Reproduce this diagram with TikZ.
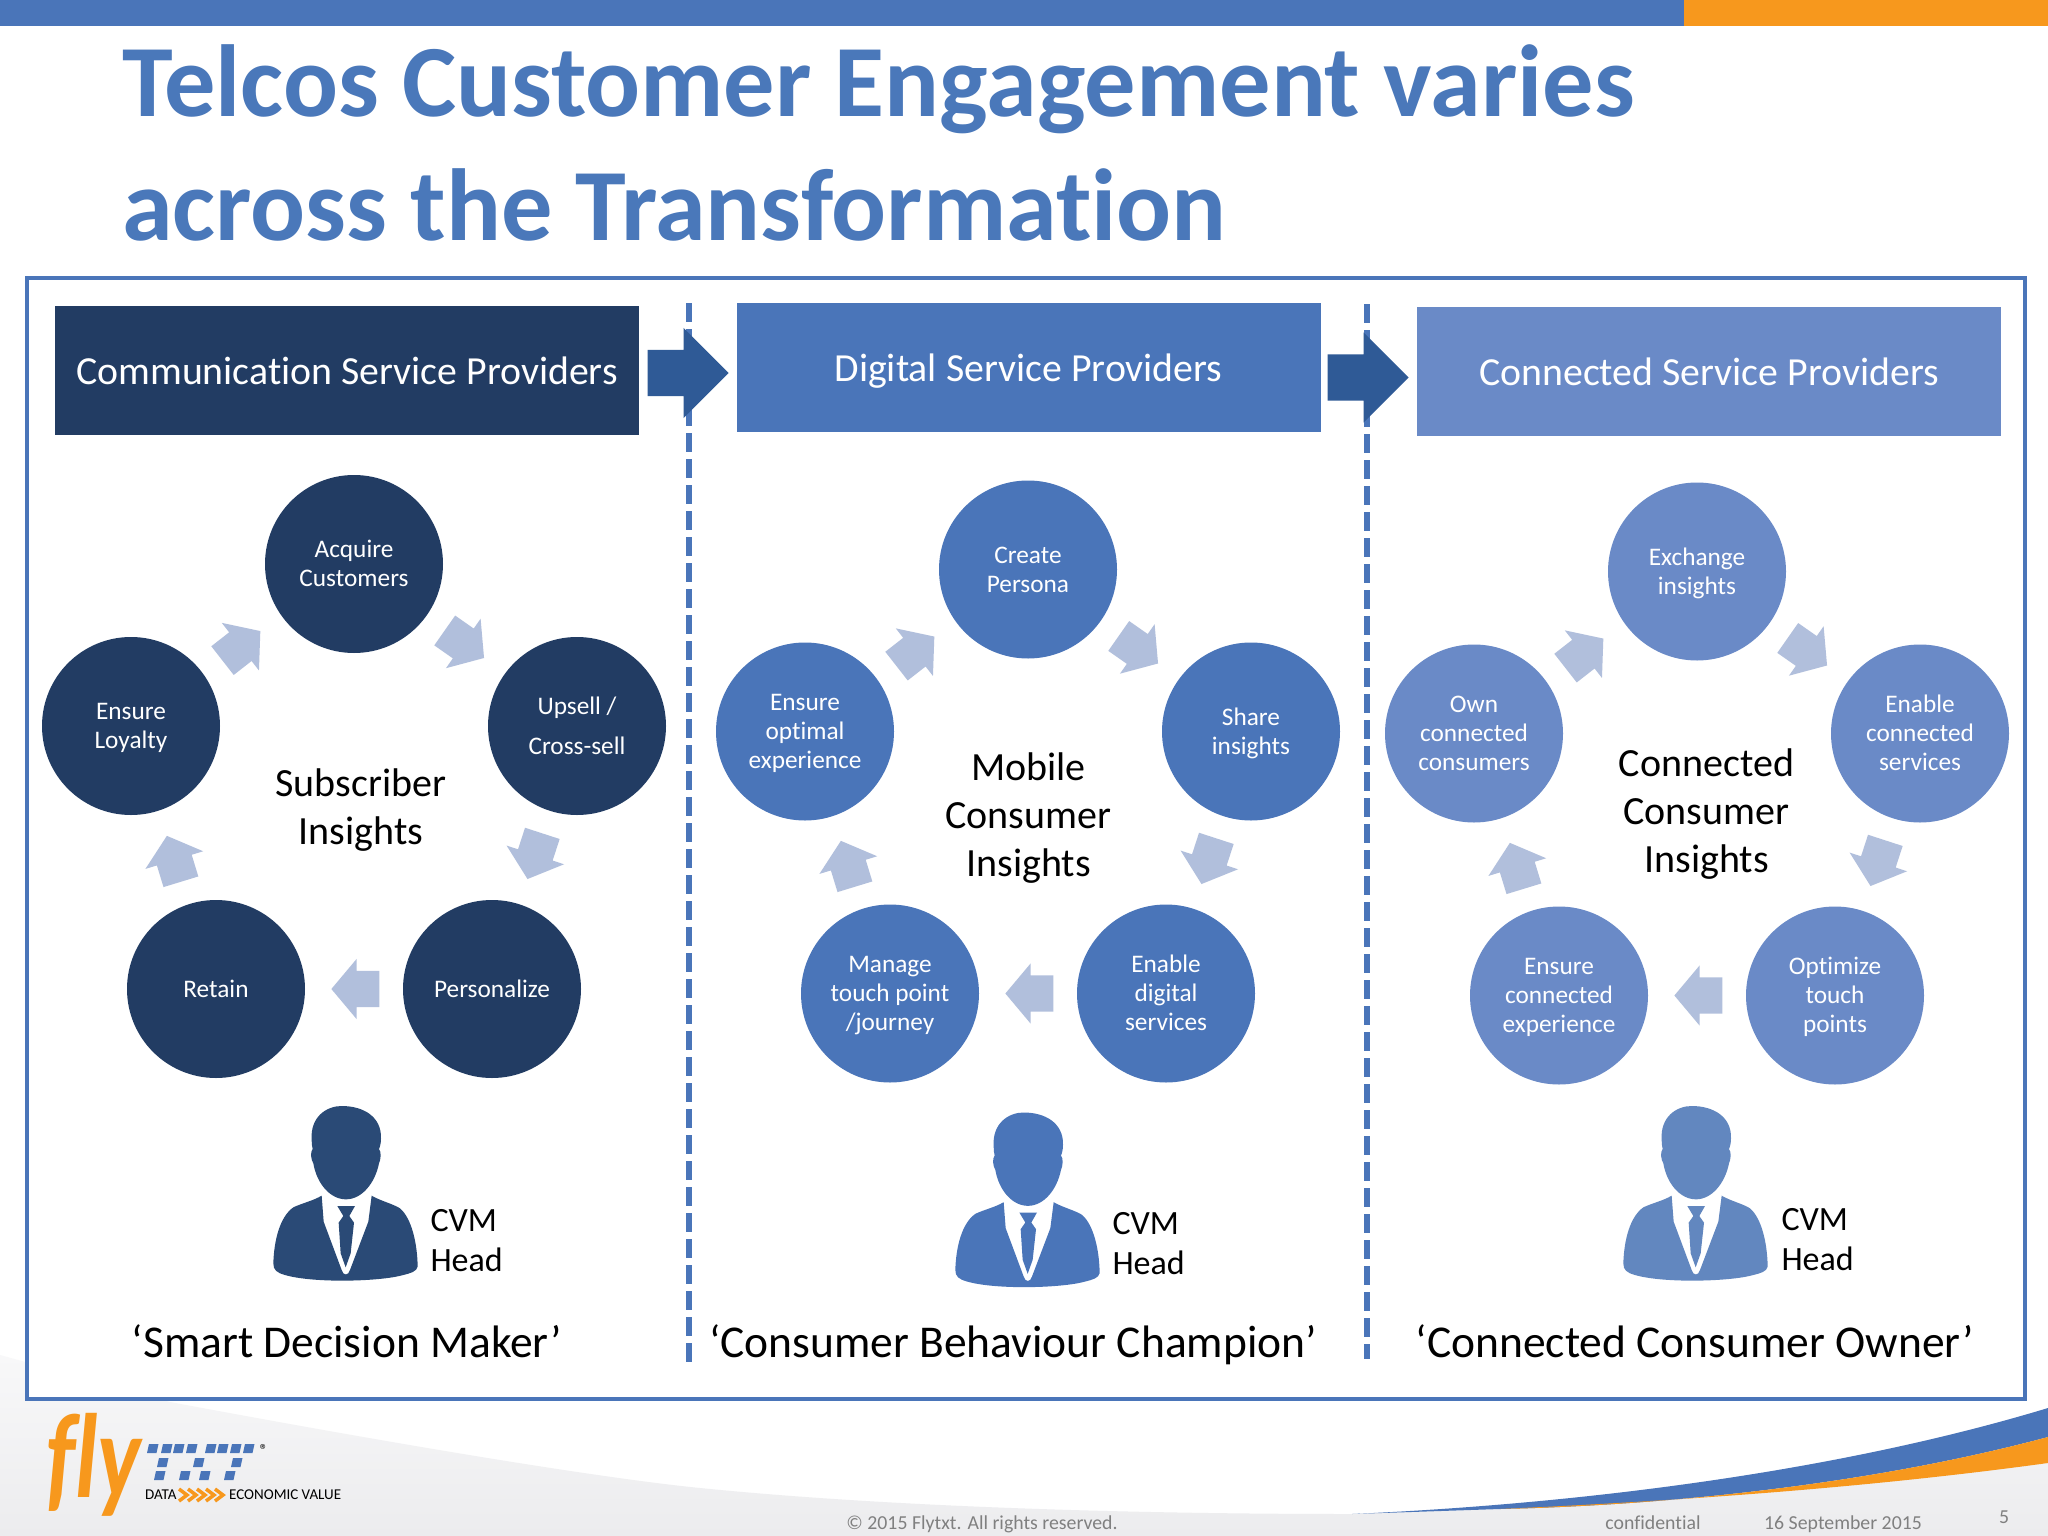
\documentclass[tikz,border=0pt]{standalone}
\usepackage{fontspec}
\setmainfont{Carlito}[Ligatures={TeX,NoCommon}]
\usetikzlibrary{positioning,shapes.arrows}
\definecolor{navy}{HTML}{223C63}
\definecolor{midblue}{HTML}{4A75B9}
\definecolor{softblue}{HTML}{6A8AC7}
\definecolor{paleblue}{HTML}{B1BFDC}
\definecolor{arrowblue}{HTML}{2F5A96}
\definecolor{titleblue}{HTML}{4A78BA}
\definecolor{barorange}{HTML}{F7981D}
\definecolor{footgray}{HTML}{808080}
\definecolor{navyman}{HTML}{2A4A76}
\definecolor{softman}{HTML}{6287BF}
\definecolor{foottop}{HTML}{F8F8F9}
\definecolor{footbot}{HTML}{ECECEE}
\newcommand{\fs}[1]{\fontsize{#1}{#1}\selectfont}
% centres the lines of a circle on the circle
\newcommand{\stagetext}[1]{\raisebox{-8.6pt}[0pt][0pt]{\begin{tabular}{@{}c@{}}#1\end{tabular}}}
\tikzset{
  stage/.style={circle,fill=#1,text=white,minimum size=178pt,inner sep=0pt,align=center,
    font=\fontsize{25.3}{29}\selectfont,on grid},
  header/.style={rectangle,fill=#1,text=white,minimum width=584pt,minimum height=129pt,
    inner sep=0pt,font=\fs{39.8},text height=37pt,text depth=9pt},
  cyclearrow/.style={single arrow,fill=paleblue,inner ysep=18pt,inner xsep=0pt,minimum height=48pt,
    single arrow head extend=12pt,single arrow tip angle=100,rotate=#1,xshift=-9pt},
  bigarrow/.style={single arrow,fill=arrowblue,inner ysep=23pt,inner xsep=0pt,minimum height=81pt,
    single arrow head extend=22pt,single arrow tip angle=90,anchor=tip},
  insight/.style={align=center,font=\fontsize{40}{48}\selectfont},
  role/.style={font=\fs{45.5},text height=32pt,text depth=11pt,inner sep=0pt},
  cvm/.style={align=left,anchor=west,font=\fontsize{34}{40}\selectfont},
  divider/.style={midblue,line width=6pt,dash pattern=on 19pt off 7pt},
  foot/.style={text=footgray,font=\fs{19.8},anchor=base,inner sep=0pt},
  pics/cvmperson/.style={code={
    % head
    \fill[#1] (245,180) .. controls (240,110) and (290,78) .. (335,78)
      .. controls (400,78) and (455,110) .. (453,175) .. controls (453,190) and (450,200) .. (447,207)
      .. controls (455,215) and (452,240) .. (447,250) .. controls (435,310) and (395,358) .. (348,358)
      .. controls (300,358) and (260,310) .. (250,250) .. controls (243,240) and (240,215) .. (248,207)
      .. controls (246,200) and (245,190) .. (245,180) -- cycle;
    % jacket
    \fill[#1] (275,347) -- (281,425) -- (335,570) .. controls (340,588) and (355,588) .. (360,570)
      -- (415,425) -- (425,347) .. controls (450,362) and (490,372) .. (510,385)
      .. controls (545,415) and (562,490) .. (563,560) .. controls (560,575) and (540,580) .. (520,585)
      .. controls (450,605) and (250,610) .. (165,585) .. controls (140,578) and (130,570) .. (130,550)
      .. controls (132,480) and (150,410) .. (190,382) .. controls (215,370) and (250,362) .. (275,347) -- cycle;
    % tie
    \fill[#1] (322,378) -- (375,378) -- (358,408) -- (372,428) -- (362,520) -- (347,562) -- (332,520)
      -- (326,428) -- (340,408) -- cycle;
  }},
}
\newcommand{\cyclearrows}[1]{
  \path (#1loy) -- node[cyclearrow=38] (#1a1) {} (#1acq);
  \path (#1acq) -- node[cyclearrow=-35] (#1a2) {} (#1ups);
  \path (#1ups) -- node[cyclearrow=-108] (#1a3) {} (#1per);
  \path (#1per) -- node[cyclearrow=180] (#1a4) {} (#1ret);
  \path (#1ret) -- node[cyclearrow=107] (#1a5) {} (#1loy);
}
\begin{document}
\begin{tikzpicture}[x=1pt,y=-1pt]
  \useasboundingbox[fill=white] (0,0) rectangle (2048,1536);
  % footer background and swoosh
  \path[top color=foottop,bottom color=footbot] (0,1355) -- (170,1402) .. controls (400,1445) and (600,1478) .. (700,1488)
    .. controls (900,1508) and (1150,1514) .. (1352,1514) -- (1500,1509) .. controls (1700,1499) and (1900,1480) .. (2048,1463)
    -- (2048,1536) -- (0,1536) -- cycle;
  \fill[midblue] (1352,1514) .. controls (1600,1503) and (1850,1468) .. (2048,1408) -- (2048,1437)
    .. controls (1880,1482) and (1680,1505) .. (1500,1509) -- cycle;
  \fill[barorange] (1500,1509) .. controls (1680,1505) and (1880,1482) .. (2048,1437) -- (2048,1463)
    .. controls (1880,1486) and (1700,1500) .. (1500,1509) -- cycle;
  % top bar
  \fill[midblue] (0,0) rectangle (1684,26);
  \fill[barorange] (1684,0) rectangle (2048,26);
  \node[anchor=base west,text=titleblue,font=\bfseries\fs{102.4},inner sep=0pt] (title1) at (122,117) {Telcos Customer Engagement varies};
  \node[anchor=base west,text=titleblue,font=\bfseries\fs{102.4},inner sep=0pt] (title2) at (122,240) {across the Transformation};
  % frame
  \draw[midblue,line width=4pt,fill=white] (27,278) rectangle (2025,1399);
  \draw[divider] (688.5,303) -- (688.5,1368);
  \draw[divider] (1367,304) -- (1367,1359);
  % headers
  \node[header=navy] (csp) at (347,370.5) {Communication Service Providers};
  \node[header=midblue] (dsp) at (1028.5,367.5) {Digital Service Providers};
  \node[header=softblue] (cnsp) at (1709,371.5) {Connected Service Providers};
  \node[bigarrow] (go1) at (729,373) {};
  \node[bigarrow] (go2) at (1409,377.5) {};
  % communication
  \node[stage=navy] (aacq) at (354,564) {\stagetext{Acquire\\Customers}};
  \node[stage=navy,below right=162pt and 223pt of aacq] (aups) {\stagetext{Upsell /\\[11pt]Cross-sell}};
  \node[stage=navy,below right=425pt and 138pt of aacq] (aper) {\stagetext{Personalize}};
  \node[stage=navy,below left=425pt and 138pt of aacq] (aret) {\stagetext{Retain}};
  \node[stage=navy,below left=162pt and 223pt of aacq] (aloy) {\stagetext{Ensure\\Loyalty}};
  \cyclearrows{a}
  \node[insight] (ains) at (361,810) {Subscriber\\Insights};
  \pic at (230,1080) [scale=1/3] {cvmperson=navyman};
  \node[cvm] (acvm) at (427,1241) {CVM\\Head};
  \node[role] (arole) at (347,1347) {‘Smart Decision Maker’};
  % digital
  \node[stage=midblue] (bacq) at (1028,569.5) {\stagetext{Create\\Persona}};
  \node[stage=midblue,below right=162pt and 223pt of bacq] (bups) {\stagetext{Share\\insights}};
  \node[stage=midblue,below right=424pt and 138pt of bacq] (bper) {\stagetext{Enable\\digital\\services}};
  \node[stage=midblue,below left=424pt and 138pt of bacq] (bret) {\stagetext{Manage\\touch point\\/journey}};
  \node[stage=midblue,below left=162pt and 223pt of bacq] (bloy) {\stagetext{Ensure\\optimal\\experience}};
  \cyclearrows{b}
  \node[insight] (bins) at (1028.5,818) {Mobile\\Consumer\\Insights};
  \pic at (912,1086.5) [scale=1/3] {cvmperson=midblue};
  \node[cvm] (bcvm) at (1109,1244) {CVM\\Head};
  \node[role] (brole) at (1013,1347) {‘Consumer Behaviour Champion’};
  % connected
  \node[stage=softblue] (cacq) at (1697,571.5) {\stagetext{Exchange\\insights}};
  \node[stage=softblue,below right=162pt and 223pt of cacq] (cups) {\stagetext{Enable\\connected\\services}};
  \node[stage=softblue,below right=424pt and 138pt of cacq] (cper) {\stagetext{Optimize\\touch\\points}};
  \node[stage=softblue,below left=424pt and 138pt of cacq] (cret) {\stagetext{Ensure\\connected\\experience}};
  \node[stage=softblue,below left=162pt and 223pt of cacq] (cloy) {\stagetext{Own\\connected\\consumers}};
  \cyclearrows{c}
  \node[insight] (cins) at (1706.5,814.5) {Connected\\Consumer\\Insights};
  \pic at (1580,1080) [scale=1/3] {cvmperson=softman};
  \node[cvm] (ccvm) at (1778,1240) {CVM\\Head};
  \node[role] (crole) at (1695,1347) {‘Connected Consumer Owner’};
  % logo
  \node[anchor=base west,text=barorange,font=\bfseries\itshape\fs{100},inner sep=0pt,transform shape,xscale=.92,yscale=1.2] (fly) at (46,1497) {fly};
  \foreach \bx/\by in {147/1453,161/1453,173/1453,186/1453,205/1453,217/1453,230/1453,243/1453,
      157/1467,193/1467,231/1467,154/1480,179/1480,199/1480,224/1480}
    \fill[midblue] (\bx,\by) -- ++(9.5,0) -- ++(2,-9) -- ++(-9.5,0) -- cycle;
  \node[font=\fs{16},inner sep=0pt] (reg) at (264,1450) {\textregistered};
  \node[anchor=west,font=\fs{15},inner sep=0pt] (data) at (145,1495) {DATA};
  \foreach \cx in {179,188,197,206,215}
    \draw[barorange,line width=3.5pt] (\cx,1489) -- (\cx+8,1495) -- (\cx,1501);
  \node[anchor=west,font=\fs{15},inner sep=0pt] (value) at (229,1495) {ECONOMIC VALUE};
  % footer texts
  \node[foot] (copy) at (982,1529) {© 2015 Flytxt. All rights reserved.};
  \node[foot] (conf) at (1653,1529) {confidential};
  \node[foot] (date) at (1843,1529) {16 September 2015};
  \node[foot] (page) at (2004,1523) {5};
\end{tikzpicture}
\end{document}
